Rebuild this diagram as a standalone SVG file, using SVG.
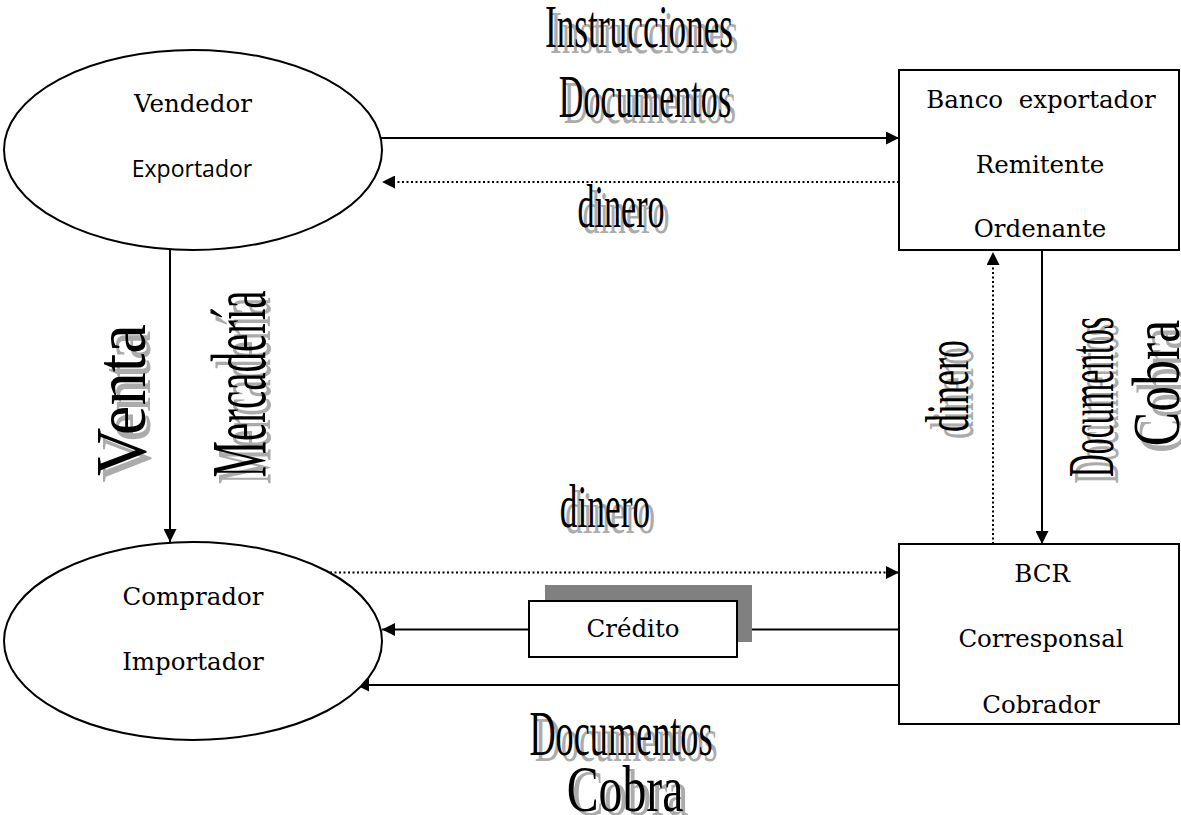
<svg xmlns="http://www.w3.org/2000/svg" width="1181" height="815" viewBox="0 0 1181 815">
  <style>
    .shape { fill: #ffffff; stroke: #000000; stroke-width: 2; }
    .lbl { font-family: "DejaVu Serif", "Liberation Serif", serif; font-size: 24.5px; fill: #000000; text-anchor: middle; }
    .lbl-sans { font-family: "Open Sans", "Liberation Sans", sans-serif; font-size: 23px; fill: #000000; text-anchor: middle; }
    .solid { fill: none; stroke: #000000; stroke-width: 2; }
    .dotted { fill: none; stroke: #000000; stroke-width: 2; stroke-dasharray: 2 2.5; }
    .art { font-family: "Liberation Serif", "Times New Roman", serif; text-anchor: middle; fill: #000000; }
    .art-shadow { font-family: "Liberation Serif", "Times New Roman", serif; text-anchor: middle; fill: #ababab; }
  </style>
  <defs>
    <marker id="arrow" viewBox="0 0 10 10" refX="10" refY="5" markerUnits="userSpaceOnUse" markerWidth="15" markerHeight="13" orient="auto">
      <path d="M0,0 L10,5 L0,10 z" fill="#000000"/>
    </marker>
  </defs>

  <rect width="1181" height="815" fill="#ffffff"/>

  <!-- connectors -->
  <g id="connectors">
    <path class="solid" d="M381,138 H899" marker-end="url(#arrow)"/>
    <path class="dotted" d="M899,182 H382" marker-end="url(#arrow)"/>
    <path class="solid" d="M170,250 V542" marker-end="url(#arrow)"/>
    <path class="solid" d="M1042,250 V544" marker-end="url(#arrow)"/>
    <path class="dotted" d="M993,544 V252" marker-end="url(#arrow)"/>
    <path class="dotted" d="M330,572.5 H899" marker-end="url(#arrow)"/>
    <path class="solid" d="M899,629.5 H752"/>
    <path class="solid" d="M529,629.5 H382" marker-end="url(#arrow)"/>
    <path class="solid" d="M899,685 H356" marker-end="url(#arrow)"/>
  </g>

  <!-- nodes -->
  <g id="vendedor">
    <ellipse class="shape" cx="193" cy="150" rx="189" ry="100"/>
    <text class="lbl" x="193" y="112">Vendedor</text>
    <text class="lbl-sans" x="192" y="177">Exportador</text>
  </g>

  <g id="banco-exportador">
    <rect class="shape" x="899" y="70" width="280" height="180"/>
    <text class="lbl" x="1041" y="108" xml:space="preserve">Banco  exportador</text>
    <text class="lbl" x="1040" y="173">Remitente</text>
    <text class="lbl" x="1040" y="237">Ordenante</text>
  </g>

  <g id="comprador">
    <ellipse class="shape" cx="193" cy="641" rx="189" ry="99"/>
    <text class="lbl" x="193" y="605">Comprador</text>
    <text class="lbl" x="193" y="670">Importador</text>
  </g>

  <g id="bcr">
    <rect class="shape" x="899" y="544" width="280" height="180"/>
    <text class="lbl" x="1042" y="582">BCR</text>
    <text class="lbl" x="1041" y="647">Corresponsal</text>
    <text class="lbl" x="1041" y="713">Cobrador</text>
  </g>

  <g id="credito">
    <rect x="545" y="585" width="207" height="57" fill="#808080"/>
    <rect class="shape" x="529" y="601" width="208" height="56"/>
    <text class="lbl" x="633" y="637">Crédito</text>
  </g>

  <!-- shadowed display labels -->
  <g id="label-instrucciones" transform="translate(639,47) scale(0.569,1)">
    <text class="art-shadow" font-size="62" x="9" y="6">Instrucciones</text>
    <text class="art" font-size="62">Instrucciones</text>
  </g>
  <g id="label-documentos-top" transform="translate(645,117) scale(0.55,1)">
    <text class="art-shadow" font-size="62" x="9" y="6">Documentos</text>
    <text class="art" font-size="62">Documentos</text>
  </g>
  <g id="label-dinero-top" transform="translate(621,227) scale(0.55,1)">
    <text class="art-shadow" font-size="62" x="9" y="6">dinero</text>
    <text class="art" font-size="62">dinero</text>
  </g>
  <g id="label-dinero-mid" transform="translate(605,527) scale(0.57,1)">
    <text class="art-shadow" font-size="62" x="9" y="6">dinero</text>
    <text class="art" font-size="62">dinero</text>
  </g>
  <g id="label-documentos-bottom" transform="translate(621,755) scale(0.575,1)">
    <text class="art-shadow" font-size="63" x="9" y="6">Documentos</text>
    <text class="art" font-size="63">Documentos</text>
  </g>
  <g id="label-cobra-bottom" transform="translate(625,811) scale(0.735,1)">
    <text class="art-shadow" font-size="65" x="7" y="4">Cobra</text>
    <text class="art" font-size="65">Cobra</text>
  </g>

  <!-- vertical labels (read bottom to top) -->
  <g id="label-venta" transform="translate(145,400) rotate(-90) scale(0.94,1)">
    <text class="art-shadow" font-size="71" x="-7" y="5">Venta</text>
    <text class="art" font-size="71">Venta</text>
  </g>
  <g id="label-mercaderia" transform="translate(265,384) rotate(-90) scale(0.527,1)">
    <text class="art-shadow" font-size="78" x="-13" y="5">Mercadería</text>
    <text class="art" font-size="78">Mercadería</text>
  </g>
  <g id="label-dinero-vertical" transform="translate(968,386) rotate(-90) scale(0.58,1)">
    <text class="art-shadow" font-size="62" x="-12" y="5">dinero</text>
    <text class="art" font-size="62">dinero</text>
  </g>
  <g id="label-documentos-vertical" transform="translate(1113,397) rotate(-90) scale(0.48,1)">
    <text class="art-shadow" font-size="66" x="-14" y="5">Documentos</text>
    <text class="art" font-size="66">Documentos</text>
  </g>
  <g id="label-cobra-vertical" transform="translate(1179,383) rotate(-90) scale(0.76,1)">
    <text class="art-shadow" font-size="68" x="-9" y="5">Cobra</text>
    <text class="art" font-size="68">Cobra</text>
  </g>
</svg>
